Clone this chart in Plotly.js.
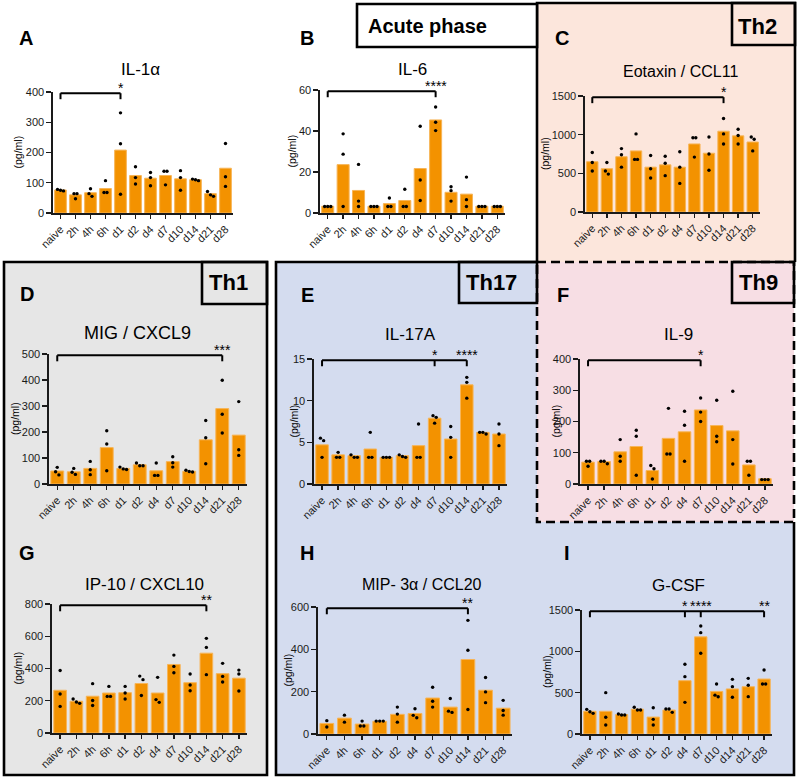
<!DOCTYPE html>
<html><head><meta charset="utf-8">
<script src="https://cdn.plot.ly/plotly-3.0.1.min.js"></script>
<style>html,body{margin:0;padding:0;background:#fff}#chart{width:799px;height:779px}</style>
</head><body><div id="chart"></div>
<script>
// ---------- DATA ----------
const cats12 = ['naive','2h','4h','6h','d1','d2','d4','d7','d10','d14','d21','d28'];
const catsH  = ['naive','4h','6h','d1','d2','d4','d7','d10','d14','d21','d28'];

// A  IL-1α
const il1aMean = [76, 60, 67, 81, 208, 124, 115, 124, 113, 110, 64, 148];
const il1aPts  = [[73,75,78],[64,47,64],[80,64,55],[107,68,68],[331,229,62],[153,117,96],[134,117,90],[138,138,93],[140,117,75],[112,110,107],[71,60,55],[230,120,88]];
const il1aSig  = [['naive','d1','*']];

// B  IL-6
const il6Mean = [3.3, 23.6, 11, 3.3, 4.6, 6.1, 21.7, 45.4, 10.1, 9.2, 3.3, 3.3];
const il6Pts  = [[3.2,3.2,3.2],[38.6,28.7,3.2],[23.7,5.8,3.2],[3.2,3.2,3.2],[7.3,3.2,3.2],[11.6,3.2,3.2],[42.3,16.1,6.1],[51.7,44.3,40.2],[12.8,10.9,5.8],[17.5,6.5,3.2],[3.2,3.2,3.2],[3.2,3.2,3.2]];
const il6Sig  = [['naive','d7','****']];

// C  Eotaxin / CCL11
const eotMean = [650, 560, 715, 790, 580, 610, 580, 880, 760, 1045, 985, 905];
const eotPts  = [[770,640,530],[640,530,490],[820,740,580],[1010,680,680],[730,560,440],[720,630,470],[780,580,370],[960,960,710],[970,750,540],[1210,1010,880],[1070,990,880],[970,940,790]];
const eotSig  = [['naive','d14','*']];

// D  MIG / CXCL9
const migMean = [50, 47, 60, 140, 60, 74, 51, 86, 49, 170, 290, 188];
const migPts  = [[64,47,35],[60,45,37],[87,55,36],[205,154,51],[65,58,56],[81,70,70],[81,33,33],[105,82,65],[53,46,48],[244,178,78],[399,268,196],[317,132,110]];
const migSig  = [['naive','d21','***']];

// E  IL-17A
const il17Mean = [4.7, 3.5, 3.4, 4.2, 3.2, 3.4, 4.6, 7.9, 5.4, 11.9, 6.2, 6.0];
const il17Pts  = [[5.5,5.2,3.2],[3.8,3.2,3.2],[3.5,3.2,3.2],[6.2,3.2,3.2],[3.2,3.2,3.2],[3.5,3.3,3.2],[7.2,3.2,3.2],[8.2,8.0,7.3],[6.9,5.6,3.2],[12.8,12.2,10.3],[6.2,6.2,6.0],[7.2,6.0,4.6]];
const il17Sig  = [['naive','d7','*'],['naive','d14','****']];

// F  IL-9
const il9Mean = [70, 72, 103, 120, 43, 146, 167, 237, 187, 170, 61, 17];
const il9Pts  = [[73,73,57],[73,73,65],[142,89,73],[172,153,28],[59,49,16],[242,96,96],[233,188,73],[275,230,200],[268,153,135],[297,142,64],[73,73,28],[14,14,14]];
const il9Sig  = [['naive','d7','*']];

// G  IP-10 / CXCL10
const ip10Mean = [265, 197, 228, 248, 250, 307, 248, 425, 312, 495, 368, 340];
const ip10Pts  = [[388,242,165],[211,192,184],[306,202,171],[289,227,227],[289,248,211],[353,331,233],[345,207,190],[483,413,374],[366,298,262],[587,531,362],[432,351,316],[390,366,260]];
const ip10Sig  = [['naive','d14','**']];

// H  MIP-3α / CCL20
const mip3Mean = [50, 75, 47, 60, 93, 97, 170, 127, 352, 207, 122];
const mip3Pts  = [[63,33],[89,56],[61,38,38],[61,61,61],[127,94,56],[119,88,77],[221,155,127],[168,108,102],[537,396,116],[267,199,148],[159,111,89]];
const mip3Sig  = [['naive','d14','**']];

// I  G-CSF
const gcsfMean = [275, 275, 235, 300, 205, 290, 645, 1175, 515, 545, 572, 665];
const gcsfPts  = [[298,270,250],[500,202,109],[242,230,230],[323,290,290],[318,177,109],[302,302,262],[843,694,383],[1306,1226,976],[605,470,450],[661,573,444],[673,589,452],[774,605,605]];
const gcsfSig  = [['naive','d4','*'],['naive','d7','****'],['naive','d28','**']];

// ---------- PANEL SETUP ----------
const panels = [
 {letter:'A', title:'IL-1α', cats:cats12, mean:il1aMean, pts:il1aPts, sig:il1aSig, ymax:400, dtick:100},
 {letter:'B', title:'IL-6', cats:cats12, mean:il6Mean, pts:il6Pts, sig:il6Sig, ymax:60, dtick:20},
 {letter:'C', title:'Eotaxin / CCL11', cats:cats12, mean:eotMean, pts:eotPts, sig:eotSig, ymax:1500, dtick:500},
 {letter:'D', title:'MIG / CXCL9', cats:cats12, mean:migMean, pts:migPts, sig:migSig, ymax:500, dtick:100},
 {letter:'E', title:'IL-17A', cats:cats12, mean:il17Mean, pts:il17Pts, sig:il17Sig, ymax:15, dtick:5},
 {letter:'F', title:'IL-9', cats:cats12, mean:il9Mean, pts:il9Pts, sig:il9Sig, ymax:400, dtick:100},
 {letter:'G', title:'IP-10 / CXCL10', cats:cats12, mean:ip10Mean, pts:ip10Pts, sig:ip10Sig, ymax:800, dtick:200},
 {letter:'H', title:'MIP- 3α / CCL20', cats:catsH, mean:mip3Mean, pts:mip3Pts, sig:mip3Sig, ymax:600, dtick:200},
 {letter:'I', title:'G-CSF', cats:cats12, mean:gcsfMean, pts:gcsfPts, sig:gcsfSig, ymax:1500, dtick:500}
];

// layout geometry (pixels): plot box [left,right,top,bottom], title pos, letter pos, y-title x, title size
const geom = [
 {box:[53,233,92,213],  tx:140, ty:70,  lx:26,  ly:38,  yt:17,  ts:17},
 {box:[320,505,90,213], tx:412, ty:70,  lx:307, ly:38,  yt:292, ts:17},
 {box:[585,760,96,212], tx:680, ty:71,  lx:562, ly:38,  yt:545, ts:16},
 {box:[49,247,354,484], tx:137, ty:333, lx:27,  ly:294, yt:15,  ts:18},
 {box:[314,507,359,484],tx:410, ty:334, lx:307, ly:295, yt:293, ts:17},
 {box:[580,773,359,484],tx:678, ty:334, lx:563, ly:295, yt:555, ts:17},
 {box:[52,247,604,733], tx:144, ty:584, lx:27,  ly:553, yt:17,  ts:17},
 {box:[318,512,607,734],tx:422, ty:584, lx:307, ly:553, yt:287, ts:16},
 {box:[582,772,610,734],tx:678, ty:585, lx:567, ly:553, yt:547, ts:17}
];

const W = 799, H = 779;
const px = x => x / W;
const py = y => 1 - y / H;
const FONT = 'Liberation Sans, Arial, sans-serif';
const BAR = '#F39200';

const data = [];
const layout = {
  width: W, height: H, margin:{l:0,r:0,t:0,b:0},
  paper_bgcolor:'#ffffff', plot_bgcolor:'rgba(0,0,0,0)',
  showlegend:false, font:{family:FONT, color:'#1a1a1a'},
  shapes:[], annotations:[]
};

// background regions
function rect(x0,y0,x1,y1,fill){ return {type:'rect',xref:'paper',yref:'paper',x0:px(x0),x1:px(x1),y0:py(y1),y1:py(y0),fillcolor:fill,line:{width:0},layer:'below'}; }
function path(pts,opts){
  const d = pts.map((p,i)=>(i?'L':'M')+px(p[0]).toFixed(5)+','+py(p[1]).toFixed(5)).join(' ') + (opts.close?' Z':'');
  return {type:'path',xref:'paper',yref:'paper',path:d,fillcolor:opts.fill||'rgba(0,0,0,0)',line:{color:'#000',width:opts.w||2.6,dash:opts.dash||'solid'},layer:'below'};
}
const PEACH='#FCE6DC', GRAY='#E6E6E6', BLUE='#D4DCEF', PINK='#F7DEE4';
layout.shapes.push(rect(537,3,795,262,PEACH));
layout.shapes.push(rect(4,262,267,775,GRAY));
layout.shapes.push(rect(276,262,794,775,BLUE));
layout.shapes.push(rect(537,262,794,522,PINK));
// borders
layout.shapes.push(path([[537,262],[537,3],[795,3],[795,262]],{}));
layout.shapes.push(path([[4,262],[267,262],[267,775],[4,775]],{close:true}));
layout.shapes.push(path([[537,262],[276,262],[276,775],[794,775],[794,522]],{}));
layout.shapes.push(path([[537,262],[794,262],[794,522],[537,522]],{close:true,dash:'9px,5px'}));
// label boxes
layout.shapes.push(path([[357,4],[537,4],[537,47],[357,47]],{close:true,fill:'#fff'}));
layout.shapes.push(path([[732,3],[795,3],[795,45],[732,45]],{close:true}));
layout.shapes.push(path([[202,262],[267,262],[267,304],[202,304]],{close:true}));
layout.shapes.push(path([[459,262],[537,262],[537,303],[459,303]],{close:true}));
layout.shapes.push(path([[732,262],[794,262],[794,303],[732,303]],{close:true}));

function txt(x,y,text,size,bold,extra){
  return Object.assign({xref:'paper',yref:'paper',x:px(x),y:py(y),text:bold?'<b>'+text+'</b>':text,showarrow:false,
    font:{family:FONT,size:size,color:'#000'},xanchor:'center',yanchor:'middle'},extra||{});
}
layout.annotations.push(txt(427,26,'Acute phase',20,true));
layout.annotations.push(txt(757,26,'Th2',22,true));
layout.annotations.push(txt(228,283,'Th1',22,true));
layout.annotations.push(txt(492,283,'Th17',22,true));
layout.annotations.push(txt(758,283,'Th9',22,true));

// spread overlapping dots horizontally
function swarm(vals, tol){
  const idx = vals.map((v,i)=>i).sort((a,b)=>vals[b]-vals[a]);
  const off = new Array(vals.length).fill(0);
  let groups=[], cur=[idx[0]];
  for(let k=1;k<idx.length;k++){
    if(Math.abs(vals[idx[k]]-vals[cur[cur.length-1]])<tol) cur.push(idx[k]); else {groups.push(cur); cur=[idx[k]];}
  }
  groups.push(cur);
  groups.forEach(g=>{ g.forEach((i,j)=>{ off[i]=(j-(g.length-1)/2)*0.2; }); });
  return off;
}

panels.forEach((p,k)=>{
  const g = geom[k];
  const sfx = k ? String(k+1) : '';
  const xa = 'x'+sfx, ya = 'y'+sfx;
  const n = p.cats.length;
  const idx = p.cats.map((c,i)=>i);
  const [l,r,t,b] = g.box;
  const plotH = b - t;

  data.push({type:'bar', x:idx, y:p.mean, width:0.78, xaxis:xa, yaxis:ya,
    marker:{color:BAR, line:{color:'#F7B558', width:1}}, hoverinfo:'skip'});
  const dx=[], dy=[];
  p.pts.forEach((vals,i)=>{
    const off = swarm(vals, p.ymax*0.03);
    vals.forEach((v,j)=>{dx.push(i+off[j]); dy.push(v);});
  });
  data.push({type:'scatter', mode:'markers', x:dx, y:dy, xaxis:xa, yaxis:ya,
    marker:{color:'#000', size:3.4}, cliponaxis:false, hoverinfo:'skip'});

  const tickv=[]; for(let v=0; v<=p.ymax+1e-9; v+=p.dtick) tickv.push(+v.toFixed(6));
  layout['xaxis'+sfx] = {domain:[px(l),px(r)], anchor:ya, range:[-0.5,n-0.5],
    tickvals:idx, ticktext:p.cats, tickangle:-45, showline:true, linecolor:'#1a1a1a', linewidth:1.6,
    ticks:'outside', ticklen:4, tickwidth:1.3, tickcolor:'#1a1a1a', showgrid:false, zeroline:false,
    tickfont:{family:FONT,size:11,color:'#1a1a1a'}, fixedrange:true};
  layout['yaxis'+sfx] = {domain:[py(b),py(t)], anchor:xa, range:[0,p.ymax], tickvals:tickv,
    showline:true, linecolor:'#1a1a1a', linewidth:1.6, ticks:'outside', ticklen:5, tickwidth:1.3,
    tickcolor:'#1a1a1a', showgrid:false, zeroline:false, tickfont:{family:FONT,size:11,color:'#1a1a1a'}, fixedrange:true};

  // titles / letters / y-title
  layout.annotations.push(txt(g.tx,g.ty,p.title,g.ts,false));
  layout.annotations.push(txt(g.lx,g.ly,p.letter,20,true));
  layout.annotations.push(txt(g.yt,(t+b)/2,'(pg/ml)',10.5,false,{textangle:-90}));

  // significance brackets
  const xd = xa+' domain', yd = ya+' domain';
  const fx = c => (p.cats.indexOf(c)+0.5)/n;
  const lvl = 0.99, tk = lvl - 6/plotH;
  const from = fx(p.sig[0][0]);
  const to = Math.max(...p.sig.map(s=>fx(s[1])));
  const ln = {color:'#000', width:2};
  layout.shapes.push({type:'line', xref:xd, yref:yd, x0:from, x1:to, y0:lvl, y1:lvl, line:ln});
  layout.shapes.push({type:'line', xref:xd, yref:yd, x0:from, x1:from, y0:lvl, y1:tk, line:ln});
  p.sig.forEach(s=>{
    const xx = fx(s[1]);
    layout.shapes.push({type:'line', xref:xd, yref:yd, x0:xx, x1:xx, y0:lvl, y1:tk, line:ln});
    layout.annotations.push({xref:xd, yref:yd, x:xx, y:lvl, text:s[2], showarrow:false,
      xanchor:'center', yanchor:'bottom', yshift:-5, font:{family:FONT,size:14,color:'#000'}});
  });
});

Plotly.newPlot('chart', data, layout, {staticPlot:true});
</script>
</body></html>
